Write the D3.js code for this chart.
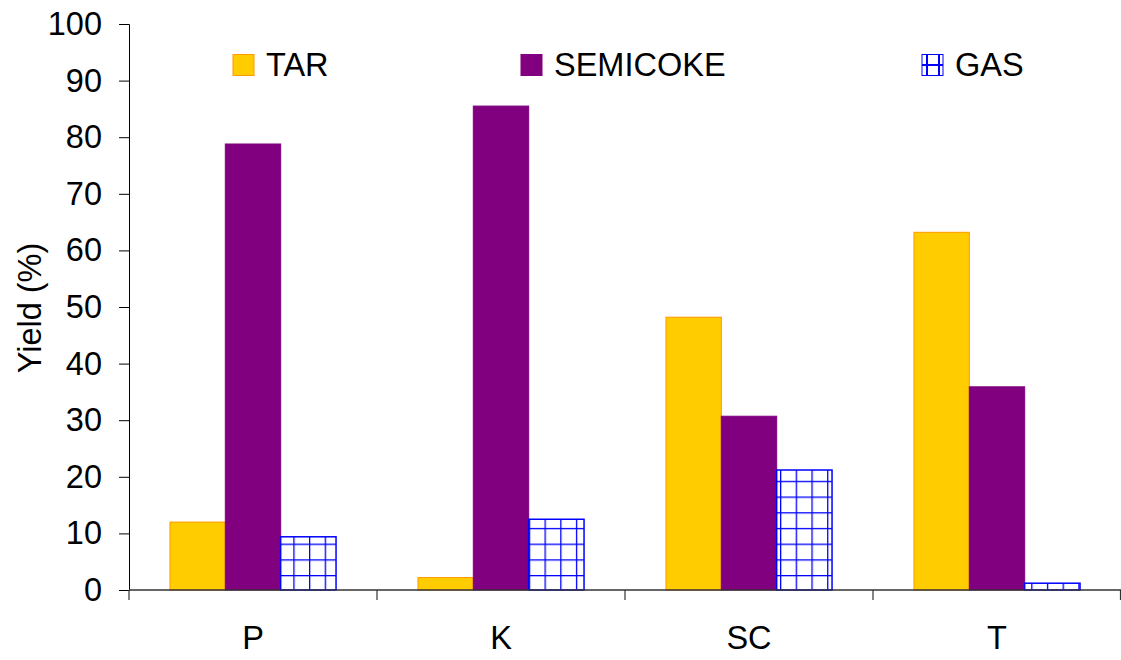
<!DOCTYPE html>
<html><head><meta charset="utf-8">
<script src="https://cdn.jsdelivr.net/npm/d3@7"></script>
<style>body{margin:0;background:#fff}text{font-family:Arial,"Liberation Sans",sans-serif}</style>
</head><body><svg id="c" width="1121" height="660"></svg>
<script>
const categories = ["P","K","SC","T"];
const seriesNames = ["TAR","SEMICOKE","GAS"];
const tar = [12.0, 2.2, 48.2, 63.2];
const semicoke = [78.8, 85.5, 30.7, 35.9];
const gas = [9.4, 12.5, 21.2, 1.2];
const yTicks = [0,10,20,30,40,50,60,70,80,90,100];

const svg = d3.select("#c");
const L=129, R=1121, T=24, B=590;
const FS = 32.5;
const x = d3.scaleBand().domain(categories).range([L,R]);
const inner = d3.scaleBand().domain(seriesNames).range([0,x.bandwidth()]).paddingOuter(0.74).paddingInner(0);
const y = d3.scaleLinear().domain([0,100]).range([B,T]);

const defs = svg.append("defs");
const pat = defs.append("pattern").attr("id","grid").attr("patternUnits","userSpaceOnUse")
  .attr("width",15.7).attr("height",15.7).attr("x",10.7).attr("y",9.8);
pat.append("rect").attr("width",15.7).attr("height",15.7).attr("fill","#fff");
pat.append("line").attr("x1",0).attr("x2",15.7).attr("y1",0).attr("y2",0).attr("stroke","#0000ff").attr("stroke-width",2.6);
pat.append("line").attr("x1",0).attr("x2",0).attr("y1",0).attr("y2",15.7).attr("stroke","#0000ff").attr("stroke-width",2.6);

const data = [tar, semicoke, gas];
const styles = [
  {fill:"#ffcc00", stroke:"#ff9900"},
  {fill:"#800080", stroke:"#800080"},
  {fill:"url(#grid)", stroke:"#0000ff"}
];
seriesNames.forEach((s,si)=>{
  svg.append("g").selectAll("rect").data(categories).join("rect")
    .attr("x",c=>x(c)+inner(s))
    .attr("y",(c,i)=>y(data[si][i]))
    .attr("width",inner.bandwidth())
    .attr("height",(c,i)=>B-y(data[si][i]))
    .attr("fill",styles[si].fill)
    .attr("stroke",styles[si].stroke)
    .attr("stroke-width",si===2?1.5:1);
});

// y axis
const ya = svg.append("g").attr("transform",`translate(${L},0)`)
  .call(d3.axisLeft(y).tickValues(yTicks).tickSize(10).tickPadding(17));
ya.select(".domain").attr("stroke","#000");
ya.selectAll("text").attr("font-size",FS).attr("fill","#000").attr("font-family","Arial, Liberation Sans, sans-serif");

// x axis
svg.append("line").attr("x1",L).attr("x2",R).attr("y1",B).attr("y2",B).attr("stroke","#333").attr("stroke-width",1.5);
const bounds = categories.map(c=>x(c)).concat([R-0.5]);
svg.append("g").selectAll("line").data(bounds).join("line")
  .attr("x1",d=>d).attr("x2",d=>d).attr("y1",B).attr("y2",B+10).attr("stroke","#333").attr("stroke-width",1.2);
svg.append("g").selectAll("text").data(categories).join("text")
  .attr("x",c=>x(c)+x.bandwidth()/2).attr("y",649).attr("text-anchor","middle")
  .attr("font-size",FS).text(c=>c);

// y title
svg.append("text").attr("transform","translate(41,308) rotate(-90)").attr("text-anchor","middle")
  .attr("font-size",FS).text("Yield (%)");

// legend
const legX = [233, 521, 922];
const lg = svg.append("g");
seriesNames.forEach((s,i)=>{
  lg.append("rect").attr("x",legX[i]).attr("y",54.5).attr("width",21).attr("height",21)
    .attr("fill", i===2 ? "#fff" : styles[i].fill).attr("stroke",styles[i].stroke);
  if(i===2){
    lg.append("line").attr("x1",legX[i]).attr("x2",legX[i]+21).attr("y1",65).attr("y2",65).attr("stroke","#0000ff").attr("stroke-width",2);
    lg.append("line").attr("x1",legX[i]+5).attr("x2",legX[i]+5).attr("y1",54.5).attr("y2",75.5).attr("stroke","#0000ff").attr("stroke-width",2);
    lg.append("line").attr("x1",legX[i]+17).attr("x2",legX[i]+17).attr("y1",54.5).attr("y2",75.5).attr("stroke","#0000ff").attr("stroke-width",2);
  }
  lg.append("text").attr("x",legX[i]+33).attr("y",75.5).attr("font-size",FS).text(s);
});
</script></body></html>
